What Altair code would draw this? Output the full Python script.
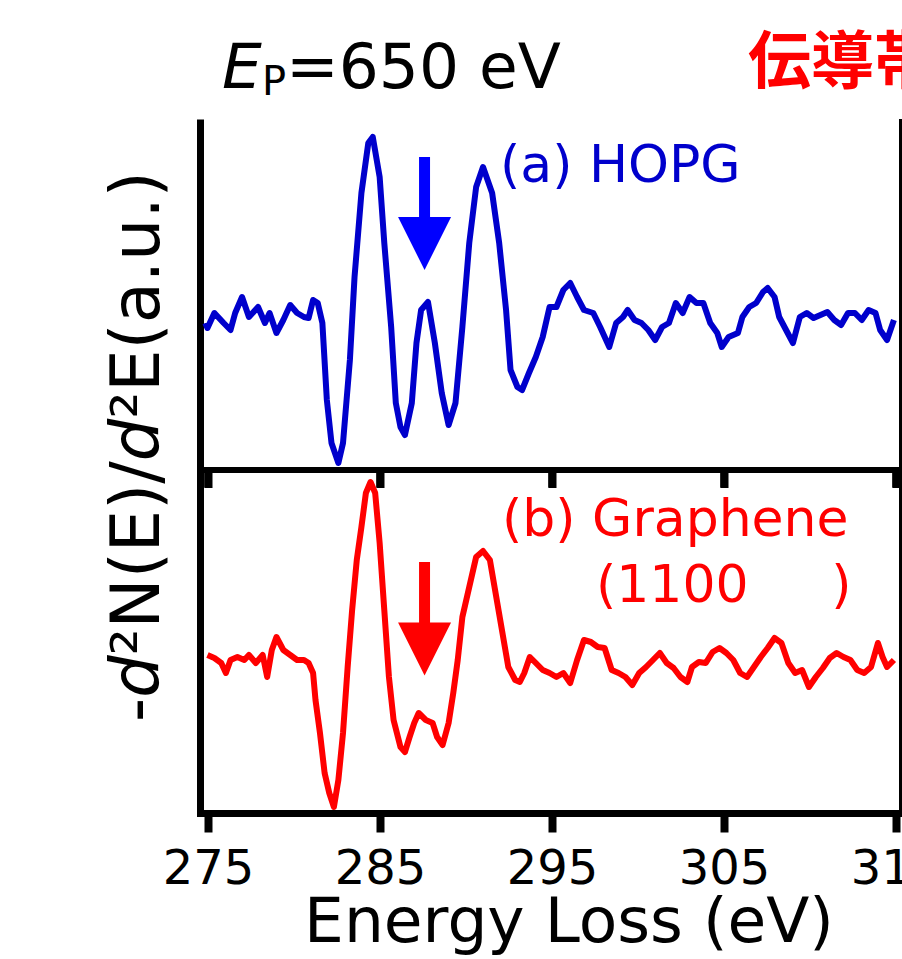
import altair as alt
import pandas as pd

# ---------------- data ----------------
HOPG_E = [274.84, 274.97, 275.37, 275.91, 276.31, 276.58, 276.98, 277.38, 277.91, 278.31, 278.58, 278.98,
          279.38, 279.78, 280.18, 280.58, 280.85, 281.11, 281.38, 281.65, 281.91, 282.18, 282.58, 282.85,
          283.25, 283.52, 283.92, 284.32, 284.58, 284.98, 285.25, 285.65, 285.92, 286.19, 286.45, 286.85,
          287.12, 287.39, 287.79, 288.19, 288.59, 288.99, 289.39, 289.79, 290.19, 290.59, 290.99, 291.52,
          291.93, 292.33, 292.59, 292.99, 293.26, 293.66, 294.06, 294.46, 294.86, 295.26, 295.66, 296.06,
          296.46, 296.86, 297.40, 297.80, 298.33, 298.73, 299.13, 299.40, 299.80, 300.20, 300.60, 301.00,
          301.40, 301.80, 302.20, 302.60, 303.00, 303.40, 303.80, 304.20, 304.61, 304.87, 305.27, 305.81,
          306.07, 306.47, 306.87, 307.27, 307.54, 307.94, 308.21, 308.61, 309.01, 309.41, 309.81, 310.21,
          310.61, 311.01, 311.41, 311.81, 312.21, 312.61, 313.01, 313.41, 313.81, 314.08, 314.48, 314.88]
HOPG_V = [-0.1, -0.6, 0.9, -0.1, -0.8, 0.9, 2.5, 0.5, 1.5, -0.1, 0.9, -1.1,
          0.2, 1.7, 0.9, 0.5, 0.4, 2.2, 1.9, -0.1, -7.8, -12.1, -14.1, -12.1,
          -3.8, 4.5, 12.9, 17.9, 18.5, 14.5, 7.9, -0.5, -8.1, -10.5, -11.3, -8.1,
          -2.1, 1.2, 2.0, -2.1, -7.1, -10.3, -8.1, -0.5, 7.9, 13.5, 15.5, 12.9,
          7.9, 1.2, -4.8, -6.5, -6.8, -5.1, -3.5, -1.5, 1.5, 1.5, 3.2, 3.9,
          2.5, 1.2, 0.9, -0.5, -2.5, -0.1, 0.5, 1.2, 0.2, -0.1, -0.8, -1.8,
          -0.5, -0.1, 1.9, 0.9, 2.5, 1.9, 1.9, -0.1, -1.1, -2.5, -1.5, -1.1,
          0.5, 1.5, 1.9, 3.0, 3.4, 2.5, 0.5, -0.8, -2.1, 0.5, 0.9, 0.4,
          0.7, 1.0, 0.2, -0.3, 0.9, 0.9, 0.2, 1.2, 0.9, -0.8, -1.8, 0.2]

GR_E = [274.97, 275.37, 275.77, 276.04, 276.31, 276.71, 277.11, 277.38, 277.78, 278.18, 278.44, 278.71,
        278.98, 279.38, 279.78, 280.18, 280.58, 280.85, 281.11, 281.25, 281.51, 281.78, 282.05, 282.32,
        282.58, 282.85, 283.12, 283.38, 283.65, 283.92, 284.18, 284.45, 284.72, 284.98, 285.25, 285.52,
        285.79, 286.19, 286.45, 286.72, 286.99, 287.25, 287.66, 288.06, 288.32, 288.64, 288.99, 289.26,
        289.52, 289.79, 290.19, 290.59, 290.99, 291.39, 291.79, 292.19, 292.46, 292.86, 293.13, 293.39,
        293.71, 294.06, 294.46, 294.86, 295.26, 295.66, 296.06, 296.46, 296.86, 297.26, 297.66, 298.06,
        298.47, 298.87, 299.27, 299.67, 300.07, 300.47, 300.87, 301.27, 301.67, 302.07, 302.47, 302.87,
        303.14, 303.54, 303.94, 304.34, 304.74, 305.14, 305.54, 305.94, 306.34, 306.74, 307.14, 307.54,
        307.94, 308.34, 308.74, 309.14, 309.54, 309.94, 310.34, 310.75, 311.15, 311.55, 311.95, 312.35,
        312.75, 313.15, 313.55, 313.95, 314.22, 314.48, 314.88]
GR_V = [0.5, 0.2, -0.3, -1.3, 0.0, 0.3, 0.0, 0.5, -0.3, 0.5, -1.7, 1.0,
        2.3, 1.0, 0.5, 0.0, 0.0, -0.3, -1.3, -4.0, -7.3, -11.3, -13.3, -14.7,
        -12.0, -7.3, -0.7, 5.0, 10.0, 13.3, 16.7, 17.8, 16.7, 11.7, 5.0, -1.7,
        -6.0, -8.7, -9.2, -7.7, -6.3, -5.3, -6.0, -6.3, -7.7, -8.5, -6.3, -3.3,
        0.0, 4.3, 7.3, 10.3, 10.9, 10.0, 6.0, 2.0, -0.7, -2.0, -2.2, -1.3,
        0.3, -0.3, -1.0, -1.3, -1.7, -1.3, -2.3, 0.0, 2.0, 1.8, 1.3, 1.2,
        -1.0, -1.3, -1.7, -2.5, -1.3, -0.7, 0.0, 0.7, -0.3, -0.8, -1.7, -2.2,
        -0.7, -0.2, -0.3, 0.8, 1.2, 0.7, 0.0, -1.3, -1.7, -0.7, 0.3, 1.2,
        2.2, 1.7, -0.3, -1.3, -1.0, -2.7, -1.7, -0.8, 0.2, 0.7, 0.3, 0.0,
        -1.0, -1.3, -0.7, 1.7, 0.3, -0.7, 0.0]

TICKS = [275, 285, 295, 305, 315]

# arrows (energy, shaft top, shaft bottom, head centre), relative to each spectrum's baseline
ARROW_E = 287.59
HOPG_ARROW = [16.5, 10.2, 7.85]
GR_ARROW = [9.8, 3.5, 1.1]

# ---------------- layout constants ----------------
W, H = 702, 694
X_DOMAIN = [274.535, 315.35]
Y_DOMAIN = [0, 69.4]
HOPG_OFF = 49.1
GR_OFF = 15.3
SEP_PX = 350.5          # separator position from the top of the plot area

BLUE_LINE = "#0000cc"
BLUE = "#0000ff"
RED = "#ff0000"
FONT = "DejaVu Sans"

xs = alt.Scale(domain=X_DOMAIN, nice=False, zero=False)
ys = alt.Scale(domain=Y_DOMAIN, nice=False, zero=False)
xaxis = alt.Axis(values=TICKS, title=None, grid=False, domainWidth=7, domainColor="black",
                 domainCap="square", tickWidth=8, tickSize=19, tickColor="black",
                 labelFontSize=48, labelFont=FONT, labelColor="black", labelPadding=13,
                 labelOverlap=False, labelFlush=False, format="d", orient="bottom")
# the upper panel's own bottom axis (the separator, with ticks pointing down)
sepaxis = alt.Axis(values=TICKS, title=None, grid=False, labels=False, domainWidth=6,
                   domainColor="black", tickWidth=8, tickSize=18, tickColor="black",
                   orient="bottom", offset=-(H - SEP_PX))
yaxis = alt.Axis(title=None, grid=False, labels=False, ticks=False, domainWidth=7,
                 domainColor="black", orient="left")


def X(field, axis=None, **kw):
    return alt.X(field, type="quantitative", scale=xs, axis=axis, **kw)


def Y(field, axis=None, **kw):
    return alt.Y(field, type="quantitative", scale=ys, axis=axis, **kw)


hopg = pd.DataFrame({"E": HOPG_E, "v": HOPG_V})
hopg["y"] = hopg["v"] + HOPG_OFF
gr = pd.DataFrame({"E": GR_E, "v": GR_V})
gr["y"] = gr["v"] + GR_OFF

hopg_line = alt.Chart(hopg).mark_line(color=BLUE_LINE, strokeWidth=6, strokeJoin="round").encode(
    x=X("E", axis=sepaxis), y=Y("y", axis=yaxis))
gr_line = alt.Chart(gr).mark_line(color=RED, strokeWidth=6, strokeJoin="round").encode(
    x=X("E", axis=xaxis), y=Y("y"))

# short ticks under the separator, drawn as thin bars from the tick values
sep_tick_df = pd.DataFrame({"E": TICKS})
sep_ticks = alt.Chart(sep_tick_df).mark_tick(color="black", thickness=8, size=18, orient="vertical",
                                              yOffset=9).encode(
    x=X("E"), y=alt.value(SEP_PX))

right_line = alt.Chart(pd.DataFrame({"a": [0]})).mark_rule(color="black", strokeWidth=6).encode(
    x=alt.value(W), y=alt.value(0), y2=alt.value(H))

# arrows
arrow_df = pd.DataFrame({
    "E": [ARROW_E, ARROW_E],
    "top": [HOPG_ARROW[0] + HOPG_OFF, GR_ARROW[0] + GR_OFF],
    "bot": [HOPG_ARROW[1] + HOPG_OFF, GR_ARROW[1] + GR_OFF],
    "head": [HOPG_ARROW[2] + HOPG_OFF, GR_ARROW[2] + GR_OFF],
    "c": ["a", "b"],
})
col = alt.Color("c:N", scale=alt.Scale(domain=["a", "b"], range=[BLUE, RED]), legend=None)
shafts = alt.Chart(arrow_df).mark_rule(strokeWidth=11).encode(
    x=X("E"), y=Y("top"), y2="bot", color=col)
heads = alt.Chart(arrow_df).mark_point(shape="M-1,-1L1,-1L0,1Z", size=2809, filled=True, opacity=1,
                                       strokeWidth=0).encode(
    x=X("E"), y=Y("head"), color=col)

dummy = pd.DataFrame({"a": [0]})


def txt(text, x, y, size, color="black", style="normal", weight="normal", font=FONT,
        align="left", angle=0):
    return alt.Chart(dummy).mark_text(
        text=text, fontSize=size, color=color, fontStyle=style, fontWeight=weight, font=font,
        align=align, baseline="alphabetic", angle=angle).encode(x=alt.value(x), y=alt.value(y))


texts = [
    txt("E", 22, -31, 63, style="italic"),
    txt("P", 62, -24, 40),
    txt("=650 eV", 86, -31, 63),
    txt("伝導帯", 548, -36, 63, color=RED, weight="bold", font="Noto Sans CJK JP"),
    txt("(a) HOPG", 300, 63, 52, color=BLUE_LINE),
    txt("(b) Graphene", 302, 417, 52, color=RED),
    txt("(1100\u00a0\u00a0\u00a0\u00a0\u00a0)", 396, 483, 52, color=RED),
    txt("Energy Loss (eV)", 369, 823, 63, align="center"),
]

# rotated y title built from segments (italic d)
YT_SIZE = 67
ADV = {"-": 0.361, "d": 0.635, "\u00b2": 0.4, "N": 0.748, "(": 0.39, ")": 0.39, "E": 0.632,
       "/": 0.337, "a": 0.613, ".": 0.318, "u": 0.634}
segments = [("-", "normal"), ("d", "italic"), ("\u00b2N(E)/", "normal"), ("d", "italic"),
            ("\u00b2E(a.u.)", "normal")]
ypos = 603.0
for s, st in segments:
    texts.append(txt(s, -41, ypos, YT_SIZE, style=st, angle=270))
    ypos -= sum(ADV[ch] for ch in s) * YT_SIZE

chart = alt.layer(right_line, sep_ticks, hopg_line, gr_line, shafts, heads, *texts).resolve_axis(
    x="independent", y="independent"
).properties(
    width=W, height=H,
    autosize=alt.AutoSizeParams(type="none"),
    padding={"left": 200, "top": 119, "right": 0, "bottom": 146},
    background="white",
).configure_view(stroke=None)

chart.save("out.html", embed_options={"renderer": "svg", "actions": False})
